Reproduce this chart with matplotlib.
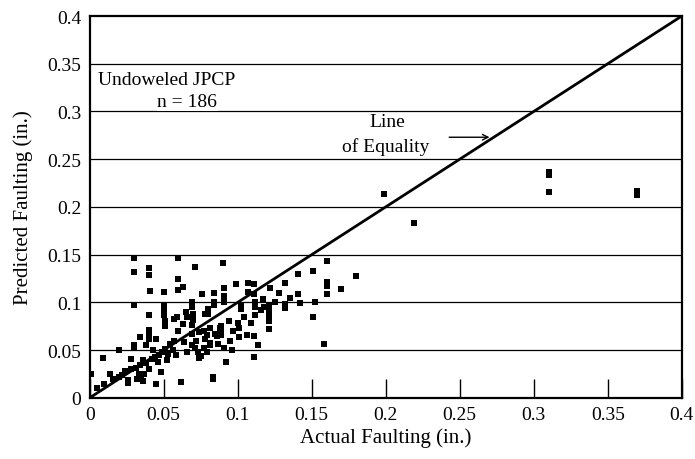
import numpy as np
import matplotlib.pyplot as plt

plt.rcParams['font.family'] = ['Liberation Serif', 'DejaVu Serif']

# actual faulting (in.)
actual = [0.030, 0.030, 0.040, 0.040, 0.060, 0.071, 0.060, 0.041, 0.050, 0.060,
          0.063, 0.076, 0.030, 0.040, 0.050, 0.050, 0.050, 0.051, 0.051, 0.057,
          0.059, 0.063, 0.069, 0.069, 0.066, 0.070, 0.070, 0.040, 0.040, 0.040,
          0.034, 0.038, 0.030, 0.030, 0.020, 0.009, 0.028, 0.001, 0.014, 0.020,
          0.022, 0.026, 0.026, 0.033, 0.035, 0.037, 0.036, 0.048, 0.045, 0.062,
          0.083, 0.031, 0.034, 0.038, 0.042, 0.044, 0.047, 0.049, 0.051, 0.054,
          0.057, 0.069, 0.071, 0.073, 0.075, 0.074, 0.069, 0.074, 0.078, 0.081,
          0.069, 0.090, 0.160, 0.151, 0.141, 0.180, 0.099, 0.107, 0.111, 0.091,
          0.122, 0.132, 0.160, 0.160, 0.170, 0.160, 0.141, 0.107, 0.111, 0.117,
          0.091, 0.091, 0.084, 0.084, 0.102, 0.102, 0.112, 0.112, 0.112, 0.121,
          0.121, 0.121, 0.121, 0.121, 0.132, 0.132, 0.142, 0.152, 0.151, 0.080,
          0.080, 0.089, 0.089, 0.089, 0.079, 0.101, 0.101, 0.106, 0.111, 0.114,
          0.111, 0.158, 0.083, 0.081, 0.077, 0.079, 0.075, 0.087, 0.091, 0.096,
          0.092, 0.088, 0.085, 0.081, 0.199, 0.219, 0.310, 0.310, 0.310, 0.370,
          0.370, 0.005, 0.010, 0.016, 0.024, 0.028, 0.032, 0.036, 0.040, 0.043,
          0.046, 0.053, 0.056, 0.058, 0.064, 0.066, 0.072, 0.077, 0.086, 0.094,
          0.097, 0.104, 0.109, 0.116, 0.125, 0.128, 0.135, 0.045, 0.052, 0.060,
          0.065, 0.078, 0.084, 0.095, 0.100, 0.118]

# predicted faulting (in.)
predicted = [0.147, 0.132, 0.136, 0.129, 0.146, 0.137, 0.125, 0.112, 0.111, 0.113,
             0.116, 0.109, 0.097, 0.087, 0.097, 0.092, 0.087, 0.080, 0.075, 0.083,
             0.085, 0.077, 0.100, 0.095, 0.085, 0.088, 0.082, 0.071, 0.066, 0.062,
             0.064, 0.055, 0.055, 0.052, 0.050, 0.042, 0.041, 0.025, 0.025, 0.022,
             0.024, 0.019, 0.016, 0.025, 0.022, 0.025, 0.018, 0.027, 0.014, 0.017,
             0.022, 0.031, 0.034, 0.037, 0.041, 0.043, 0.045, 0.048, 0.051, 0.056,
             0.060, 0.055, 0.052, 0.048, 0.044, 0.042, 0.067, 0.069, 0.062, 0.057,
             0.076, 0.141, 0.143, 0.133, 0.130, 0.128, 0.119, 0.120, 0.119, 0.115,
             0.115, 0.120, 0.121, 0.117, 0.114, 0.109, 0.109, 0.111, 0.109, 0.104,
             0.107, 0.100, 0.100, 0.097, 0.097, 0.093, 0.100, 0.095, 0.087, 0.097,
             0.092, 0.086, 0.081, 0.072, 0.098, 0.094, 0.099, 0.100, 0.085, 0.093,
             0.088, 0.075, 0.070, 0.066, 0.066, 0.073, 0.064, 0.066, 0.065, 0.055,
             0.043, 0.056, 0.020, 0.055, 0.052, 0.048, 0.044, 0.056, 0.052, 0.050,
             0.038, 0.073, 0.067, 0.073, 0.214, 0.183, 0.237, 0.233, 0.216, 0.212,
             0.217, 0.010, 0.015, 0.020, 0.028, 0.030, 0.020, 0.040, 0.030, 0.050,
             0.038, 0.046, 0.050, 0.045, 0.058, 0.048, 0.060, 0.070, 0.065, 0.080,
             0.070, 0.085, 0.078, 0.092, 0.100, 0.110, 0.105, 0.062, 0.040, 0.070,
             0.090, 0.088, 0.110, 0.060, 0.078, 0.095]

equality = [0, 0.4]

fig, ax = plt.subplots(figsize=(6.95, 4.6), dpi=100)
fig.subplots_adjust(left=0.129, right=0.981, bottom=0.133, top=0.963)

for yy in np.arange(0.05, 0.40, 0.05):
    ax.axhline(yy, color='black', lw=0.9, zorder=1)

ax.plot(equality, equality, color='black', lw=2.0, zorder=3)
ax.scatter(actual, predicted, marker='s', s=14, color='black', linewidths=0, zorder=4)

ax.set_xlim(0, 0.4)
ax.set_ylim(0, 0.4)
ax.set_xticks(np.arange(0, 0.41, 0.05))
ax.set_xticklabels(['0', '0.05', '0.1', '0.15', '0.2', '0.25', '0.3', '0.35', '0.4'])
ax.set_yticks(np.arange(0, 0.41, 0.05))
ax.set_yticklabels(['0', '0.05', '0.1', '0.15', '0.2', '0.25', '0.3', '0.35', '0.4'])
ax.tick_params(axis='x', direction='in', length=14, width=1, labelsize=14, pad=6)
ax.tick_params(axis='y', length=0, labelsize=14, pad=6)
for s in ax.spines.values():
    s.set_linewidth(1.6)

ax.set_xlabel('Actual Faulting (in.)', fontsize=15, labelpad=3)
ax.set_ylabel('Predicted Faulting (in.)', fontsize=15, labelpad=10)

ax.text(0.052, 0.334, 'Undoweled JPCP', fontsize=14, ha='center', va='center',
        bbox=dict(facecolor='white', edgecolor='none', pad=0.5), zorder=5)
ax.text(0.066, 0.310, 'n = 186', fontsize=14, ha='center', va='center',
        bbox=dict(facecolor='white', edgecolor='none', pad=0.5), zorder=5)
ax.text(0.201, 0.289, 'Line', fontsize=14, ha='center', va='center',
        bbox=dict(facecolor='white', edgecolor='none', pad=0.5), zorder=5)
ax.text(0.2, 0.264, 'of Equality', fontsize=14, ha='center', va='center',
        bbox=dict(facecolor='white', edgecolor='none', pad=0.5), zorder=5)
ax.annotate('', xy=(0.272, 0.273), xytext=(0.241, 0.273),
            arrowprops=dict(arrowstyle='->', color='black', lw=1), zorder=5)

fig.savefig('out.png', dpi=100)
